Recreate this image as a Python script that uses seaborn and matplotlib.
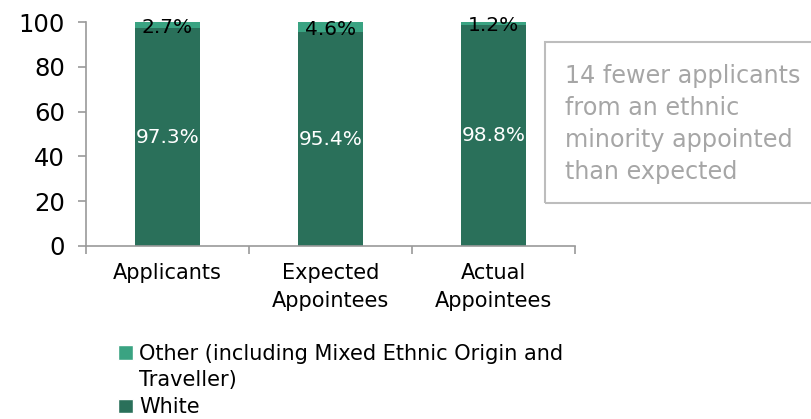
import matplotlib
matplotlib.use("Agg")
import matplotlib.pyplot as plt
from matplotlib.patches import Patch, Rectangle
import numpy as np
import pandas as pd
import seaborn as sns

# Chart data
categories = ["Applicants", "Expected\nAppointees", "Actual\nAppointees"]
white = [97.3, 95.4, 98.8]
other = [2.7, 4.6, 1.2]

WHITE_COLOR = "#2A705A"
OTHER_COLOR = "#3AA382"
GRID_GREY = "#9A9A9A"

sns.set_theme(style="white")
plt.rcParams["font.family"] = ["DejaVu Sans"]
plt.rcParams["text.color"] = "black"
plt.rcParams["xtick.color"] = "black"
plt.rcParams["ytick.color"] = "black"

df = pd.DataFrame({"category": categories, "white": white, "other": other})
df["total"] = df["white"] + df["other"]

fig = plt.figure(figsize=(8.11, 4.19), dpi=100)
ax = fig.add_axes([0.106, 0.413, 0.603, 0.534])

# stacked bars: total drawn in "other" colour, white drawn on top of it
sns.barplot(data=df, x="category", y="total", color=OTHER_COLOR, width=0.4,
            saturation=1, linewidth=0, ax=ax)
sns.barplot(data=df, x="category", y="white", color=WHITE_COLOR, width=0.4,
            saturation=1, linewidth=0, ax=ax)

ax.set_ylim(0, 100)
ax.set_xlim(-0.5, 2.5)
ax.set_yticks([0, 20, 40, 60, 80, 100])
ax.set_xlabel("")
ax.set_ylabel("")

# labels
ax.bar_label(ax.containers[1], labels=[f"{v:.1f}%" for v in white],
             label_type="center", color="white", fontsize=14.5)
for i, (w, o) in enumerate(zip(white, other)):
    ax.text(i, w + o / 2 - 0.8, f"{o:.1f}%", ha="center", va="center",
            fontsize=14.5, color="black")

# axes styling
for side in ["top", "right"]:
    ax.spines[side].set_visible(False)
for side in ["left", "bottom"]:
    ax.spines[side].set_color(GRID_GREY)
    ax.spines[side].set_linewidth(1.2)
ax.tick_params(axis="y", left=True, length=6, width=1.2, color=GRID_GREY,
               labelsize=17.5, pad=9, labelcolor="black")
ax.tick_params(axis="x", bottom=False, labelsize=15, pad=6, labelcolor="black")
ax.set_xticks(range(3))
ax.set_xticklabels(categories, linespacing=1.55)
ax.set_xticks([-0.5, 0.5, 1.5, 2.5], minor=True)
ax.tick_params(axis="x", which="minor", bottom=True, length=6, color=GRID_GREY, width=1.2)

# legend below the chart (wrapped label: second line gets an empty handle
# so the swatch stays level with the first line)
handles = [Patch(facecolor=OTHER_COLOR, label="Other (including Mixed Ethnic Origin and"),
           Patch(facecolor="none", edgecolor="none", label="Traveller)"),
           Patch(facecolor=WHITE_COLOR, label="White")]
leg = fig.legend(handles=handles, loc="upper left", bbox_to_anchor=(0.146, 0.18),
                 frameon=False, fontsize=15, handlelength=0.7, handleheight=0.7,
                 handletextpad=0.3, labelspacing=0.33, borderaxespad=0, borderpad=0)

# annotation box on the right
fig.add_artist(Rectangle((0.672, 0.516), 0.4, 0.384, transform=fig.transFigure,
                         facecolor="none", edgecolor="#BDBDBD", linewidth=1.5,
                         clip_on=False))
fig.text(0.697, 0.705, "14 fewer applicants\nfrom an ethnic\nminority appointed\nthan expected",
         ha="left", va="center", fontsize=17.2, color="#A6A6A6", linespacing=1.42)

fig.savefig("out.png", dpi=100)
